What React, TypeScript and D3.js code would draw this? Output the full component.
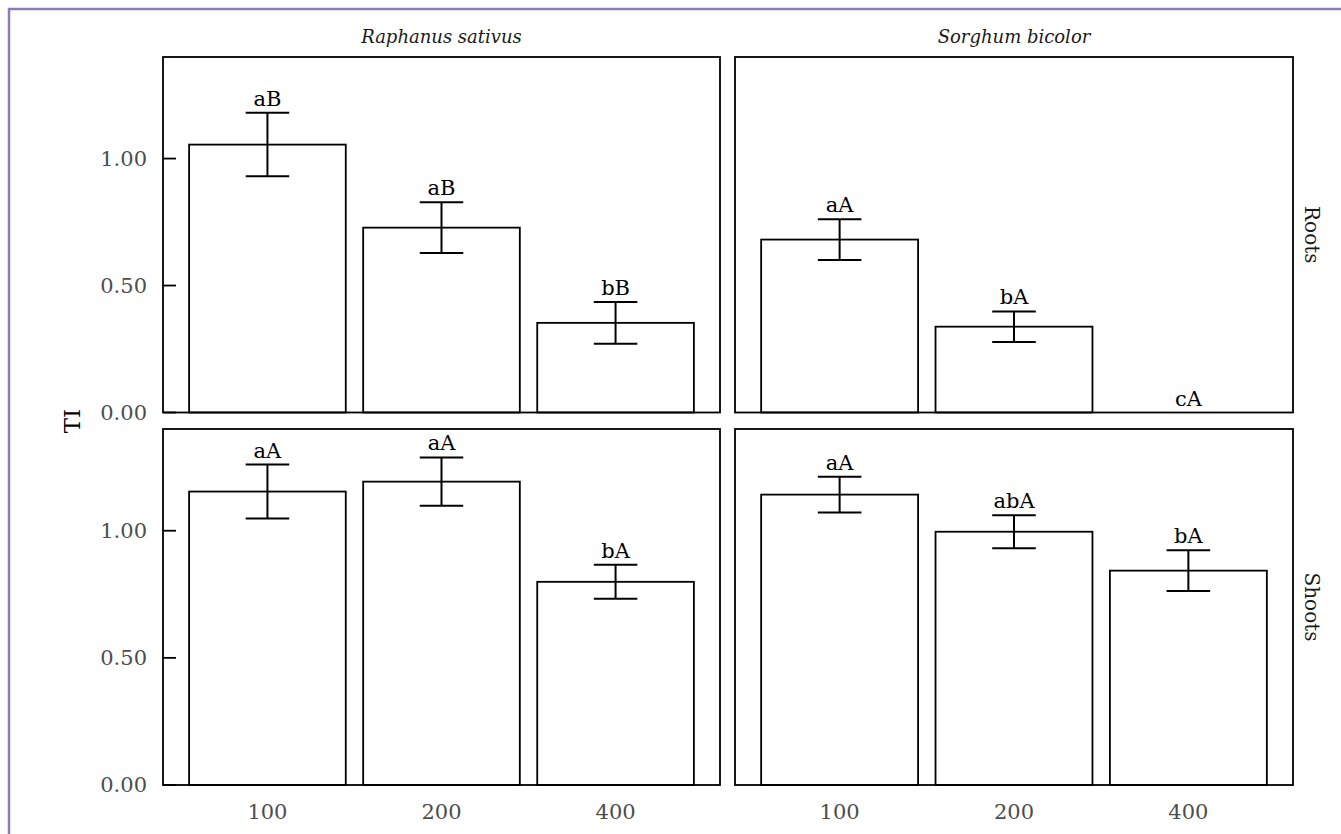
import React from "react";
import * as d3 from "d3";

const species = ["Raphanus sativus", "Sorghum bicolor"];
const organs = ["Roots", "Shoots"];
const doses = ["100", "200", "400"];
const yTicks = [0, 0.5, 1.0];

const meanRootsRaphanus = [1.055, 0.728, 0.353];
const seRootsRaphanus = [0.125, 0.1, 0.082];
const lettersRootsRaphanus = ["aB", "aB", "bB"];

const meanRootsSorghum = [0.681, 0.338, 0.0];
const seRootsSorghum = [0.08, 0.06, 0.0];
const lettersRootsSorghum = ["aA", "bA", "cA"];

const meanShootsRaphanus = [1.154, 1.193, 0.799];
const seShootsRaphanus = [0.106, 0.095, 0.067];
const lettersShootsRaphanus = ["aA", "aA", "bA"];

const meanShootsSorghum = [1.142, 0.996, 0.843];
const seShootsSorghum = [0.07, 0.065, 0.08];
const lettersShootsSorghum = ["aA", "abA", "bA"];

const panelData = [
  [
    { mean: meanRootsRaphanus, se: seRootsRaphanus, letters: lettersRootsRaphanus },
    { mean: meanRootsSorghum, se: seRootsSorghum, letters: lettersRootsSorghum },
  ],
  [
    { mean: meanShootsRaphanus, se: seShootsRaphanus, letters: lettersShootsRaphanus },
    { mean: meanShootsSorghum, se: seShootsSorghum, letters: lettersShootsSorghum },
  ],
];

const W = 1341;
const H = 834;
const colRanges: [number, number][] = [
  [163, 720],
  [735, 1293],
];
const rowRanges: [number, number][] = [
  [57, 412.5],
  [429, 785],
];
const serif = "'DejaVu Serif', serif";

export default function App() {
  return (
    <svg
      width={W}
      height={H}
      style={{ position: "absolute", left: 0, top: 0, display: "block", background: "#fff" }}
    >
      <rect x={0} y={0} width={W} height={H} fill="#fff" />
      <rect x={9} y={9} width={W + 50} height={H + 50} fill="none" stroke="#8c7bb5" strokeWidth={2.5} />

      {species.map((sp, ci) => {
        const [x0, x1] = colRanges[ci];
        return (
          <text
            key={"strip" + ci}
            x={(x0 + x1) / 2}
            y={43}
            textAnchor="middle"
            fontFamily={serif}
            fontStyle="italic"
            fontSize={18}
            fill="#1a1a1a"
          >
            {sp}
          </text>
        );
      })}

      {organs.map((org, ri) => {
        const [y0, y1] = rowRanges[ri];
        const cy = (y0 + y1) / 2;
        return (
          <text
            key={"org" + ri}
            transform={`translate(1312,${cy}) rotate(90)`}
            textAnchor="middle"
            dominantBaseline="central"
            fontFamily={serif}
            fontSize={20}
            fill="#1a1a1a"
          >
            {org}
          </text>
        );
      })}

      <text
        transform={`translate(72,421) rotate(-90)`}
        textAnchor="middle"
        dominantBaseline="central"
        fontFamily={serif}
        fontSize={23}
        fill="#000"
      >
        TI
      </text>

      {rowRanges.map(([yt, yb], ri) =>
        colRanges.map(([xl, xr], ci) => {
          const x = d3.scaleBand<string>().domain(doses).range([xl, xr]).paddingInner(0.1).paddingOuter(0.15);
          const y = d3.scaleLinear().domain([0, 1.4]).range([yb, yt]);
          const step = x.step();
          const d = panelData[ri][ci];
          return (
            <g key={`p${ri}${ci}`}>
              {doses.map((dose, i) => {
                const bx = x(dose)!;
                const cx = bx + x.bandwidth() / 2;
                const m = d.mean[i];
                const s = d.se[i];
                const capHalf = step * 0.125;
                return (
                  <g key={dose}>
                    <rect
                      x={bx}
                      y={y(m)}
                      width={x.bandwidth()}
                      height={y(0) - y(m)}
                      fill="#fff"
                      stroke="#000"
                      strokeWidth={1.8}
                    />
                    {s > 0 && (
                      <g stroke="#000" strokeWidth={2}>
                        <line x1={cx} x2={cx} y1={y(m - s)} y2={y(m + s)} />
                        <line x1={cx - capHalf} x2={cx + capHalf} y1={y(m + s)} y2={y(m + s)} />
                        <line x1={cx - capHalf} x2={cx + capHalf} y1={y(m - s)} y2={y(m - s)} />
                      </g>
                    )}
                    <text
                      x={cx}
                      y={y(m + s) - 7}
                      textAnchor="middle"
                      fontFamily={serif}
                      fontSize={21}
                      fill="#000"
                    >
                      {d.letters[i]}
                    </text>
                  </g>
                );
              })}
              <rect x={xl} y={yt} width={xr - xl} height={yb - yt} fill="none" stroke="#000" strokeWidth={1.8} />
              {ci === 0 &&
                yTicks.map((t) => (
                  <g key={t}>
                    <line x1={xl} x2={xl + 13} y1={y(t)} y2={y(t)} stroke="#000" strokeWidth={1.8} />
                    <text
                      x={xl - 16}
                      y={y(t)}
                      textAnchor="end"
                      dominantBaseline="central"
                      fontFamily={serif}
                      fontSize={21}
                      fill="#4d4d4d"
                    >
                      {d3.format(".2f")(t)}
                    </text>
                  </g>
                ))}
              {ri === 1 &&
                doses.map((dose) => (
                  <text
                    key={"xt" + dose}
                    x={x(dose)! + x.bandwidth() / 2}
                    y={812}
                    textAnchor="middle"
                    dominantBaseline="central"
                    fontFamily={serif}
                    fontSize={21}
                    fill="#4d4d4d"
                  >
                    {dose}
                  </text>
                ))}
            </g>
          );
        })
      )}
    </svg>
  );
}
